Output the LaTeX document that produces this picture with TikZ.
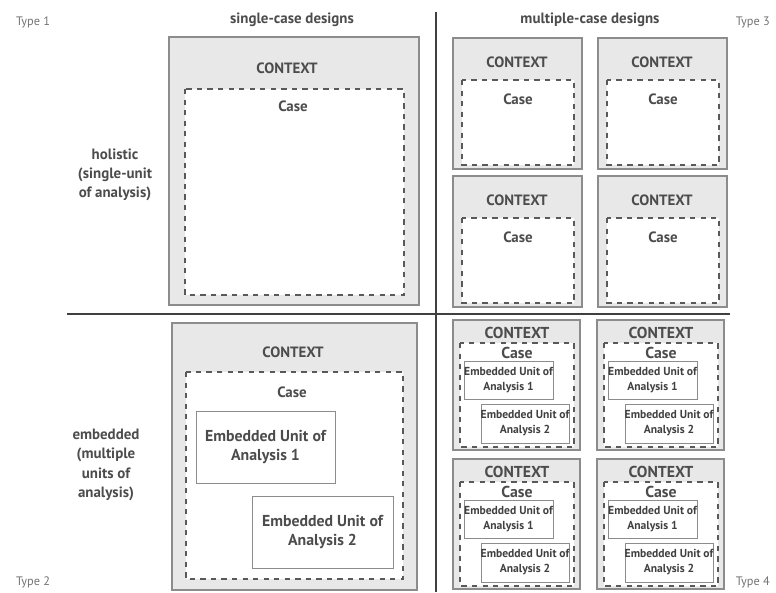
\documentclass[tikz,border=0pt]{standalone}
\usepackage{fontspec}
\setmainfont{PT Sans}
\usetikzlibrary{positioning}

\begin{document}
\begin{tikzpicture}[
    x=0.02cm, y=-0.02cm, % one unit = one pixel of the layout, y going down
    head/.style={text=black!70, font=\fontsize{8.5}{11}\selectfont\bfseries}, % column and row headings
    typelbl/.style={text=black!55, font=\fontsize{7}{8}\selectfont}, % Type 1..4
    ctxbox/.style={draw=black!45, fill=black!9, line width=0.9pt}, % grey context frame
    casebox/.style={draw=black!65, dashed, fill=white, line width=0.6pt}, % dashed case frame
    unitbox/.style={draw=black!45, fill=white, line width=0.5pt}, % embedded unit
    bigtxt/.style={text=black!70, font=\fontsize{8.5}{11}\selectfont\bfseries, align=center},
    smalltxt/.style={text=black!75, font=\fontsize{6.6}{8.5}\selectfont\bfseries, align=center}
]

    \useasboundingbox (0,0) rectangle (776,592);

    % Headings
    \node[typelbl, anchor=west] (type1) at (10,22) {Type 1};
    \node[typelbl, anchor=east] (type3) at (776,22) {Type 3};
    \node[typelbl, anchor=west] (type2) at (10,582) {Type 2};
    \node[typelbl, anchor=east] (type4) at (776,582) {Type 4};
    \node[head] (single) at (292,20) {single-case designs};
    \node[head] (multiple) at (590,20) {multiple-case designs};
    \node[head, align=center] (holistic) at (115,175) {holistic\\(single-unit\\of analysis)};
    \node[head, align=center] (embedded) at (106,465) {embedded\\(multiple\\units of\\analysis)};

    % Dividing lines
    \draw[black!75, line width=1pt] (436,12) -- (436,592);
    \draw[black!75, line width=1pt] (67,314) -- (730,314);

    % Type 1: single holistic case
    \draw[ctxbox] (169,37) rectangle (419,305);
    \node[bigtxt] (ctx1) at (287,68) {CONTEXT};
    \draw[casebox] (185,89) rectangle (404,295);
    \node[bigtxt] (case1) at (293,106) {Case};

    % Type 2: single embedded case
    \draw[ctxbox] (172,323) rectangle (417,590);
    \node[bigtxt] (ctx2) at (293,352) {CONTEXT};
    \draw[casebox] (186,372) rectangle (403,579);
    \node[bigtxt] (case2) at (292,392) {Case};
    \draw[unitbox] (196,411) rectangle (335,483);
    \node[bigtxt, font=\fontsize{9}{11.3}\selectfont\bfseries] (unit21) at (265.5,447) {Embedded Unit of\\Analysis 1};
    \draw[unitbox] (252,496) rectangle (393,568);
    \node[bigtxt, font=\fontsize{9}{11.3}\selectfont\bfseries] (unit22) at (322.5,532) {Embedded Unit of\\Analysis 2};

    % Type 3: multiple holistic cases
    \foreach \dx/\dy [count=\i] in {0/0, 145/0, 0/138, 145/138} {
        \begin{scope}[shift={(453+\dx,38+\dy)}]
            \draw[ctxbox] (0,0) rectangle (129,131);
            \node[bigtxt] (ctx3-\i) at (64,24) {CONTEXT};
            \draw[casebox] (9,42) rectangle (121,127);
            \node[bigtxt] (case3-\i) at (65,61) {Case};
        \end{scope}
    }

    % Type 4: multiple embedded cases
    \foreach \dx/\dy [count=\i] in {0/0, 144/0, 0/139, 144/139} {
        \begin{scope}[shift={(453+\dx,320+\dy)}]
            \draw[ctxbox] (0,0) rectangle (127,130);
            \node[bigtxt, font=\fontsize{9}{11}\selectfont\bfseries] (ctx4-\i) at (64,13) {CONTEXT};
            \draw[casebox] (7,23) rectangle (121,127);
            \node[bigtxt, font=\fontsize{9}{11}\selectfont\bfseries] (case4-\i) at (64,33) {Case};
            \draw[unitbox] (11,41) rectangle (100,79);
            \node[smalltxt] (unit4-\i-a) at (55.5,60) {Embedded Unit of\\Analysis 1};
            \draw[unitbox] (28,84) rectangle (116,123);
            \node[smalltxt] (unit4-\i-b) at (72,103.5) {Embedded Unit of\\Analysis 2};
        \end{scope}
    }

\end{tikzpicture}
\end{document}
